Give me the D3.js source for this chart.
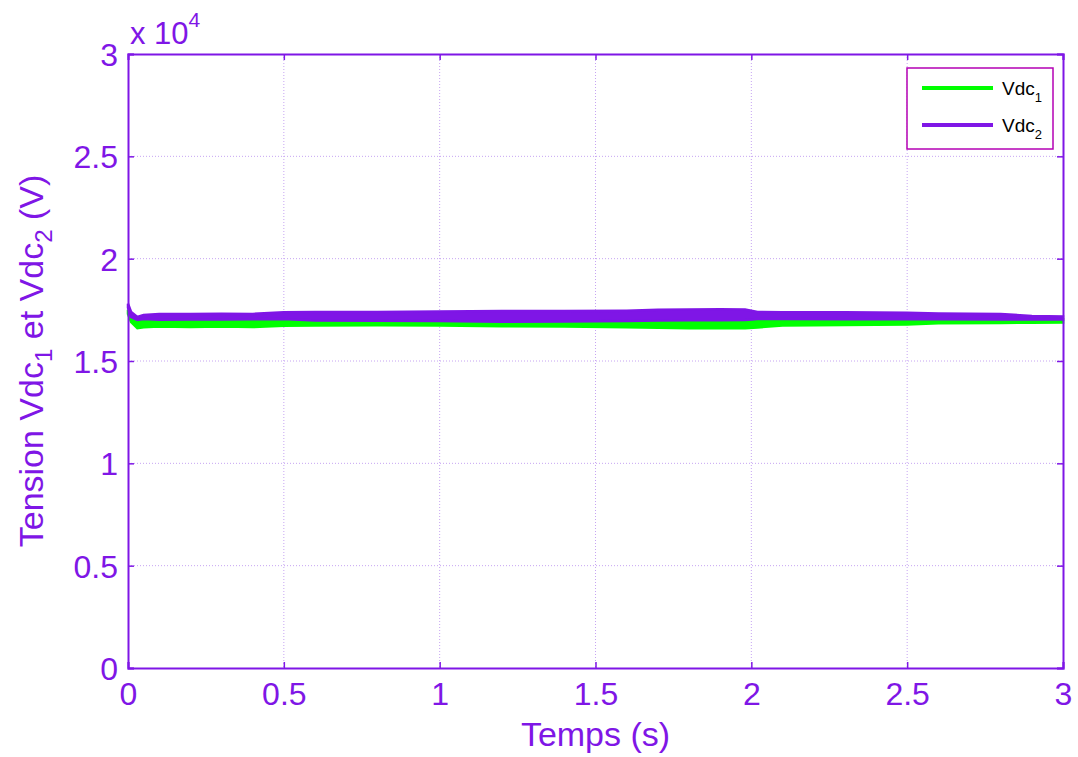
<!DOCTYPE html>
<html><head><meta charset="utf-8">
<script src="https://cdn.jsdelivr.net/npm/d3@7"></script>
<style>body{margin:0;background:#fff}svg{display:block}text{font-family:"Liberation Sans",Arial,sans-serif}</style>
</head><body>
<svg id="c" width="1078" height="757"></svg>
<script>
// time samples (s) for envelope
const times = [0, 0.01, 0.03, 0.05, 0.1, 0.2, 0.3, 0.4, 0.5, 0.6, 0.8, 1.0, 1.2, 1.4, 1.6, 1.7, 1.8, 1.9, 1.98, 2.02, 2.1, 2.3, 2.5, 2.6, 2.8, 2.9, 3.0];
// Vdc1 (green) min / max envelope, V
const vdc1Max = [17500, 17200, 16950, 17020, 17030, 17040, 17040, 17050, 17030, 17000, 17000, 17000, 16980, 16990, 17000, 17000, 17000, 17000, 17000, 17020, 17030, 17030, 17040, 17040, 17040, 17040, 17040];
const vdc1Min = [17300, 16900, 16600, 16650, 16680, 16660, 16680, 16660, 16720, 16740, 16750, 16740, 16700, 16680, 16650, 16620, 16600, 16600, 16600, 16640, 16740, 16760, 16780, 16840, 16860, 16870, 16880];
// Vdc2 (purple) min / max envelope, V
const vdc2Max = [17800, 17400, 17150, 17250, 17300, 17300, 17310, 17300, 17380, 17390, 17400, 17420, 17440, 17440, 17460, 17500, 17520, 17530, 17520, 17400, 17380, 17380, 17360, 17320, 17300, 17200, 17180];
const vdc2Min = [17600, 17150, 17000, 17050, 17020, 17030, 17030, 17040, 17050, 16980, 16970, 16950, 16920, 16930, 16950, 16980, 16990, 16990, 17000, 17050, 17050, 17040, 17040, 17040, 17030, 17030, 17030];

const xTicks = [0, 0.5, 1, 1.5, 2, 2.5, 3];
const xTickLabels = ["0", "0.5", "1", "1.5", "2", "2.5", "3"];
const yTicks = [0, 5000, 10000, 15000, 20000, 25000, 30000];
const yTickLabels = ["0", "0.5", "1", "1.5", "2", "2.5", "3"];
const seriesNames = ["Vdc", "Vdc"];
const seriesSubs = ["1", "2"];

const PURPLE = "#7f16e6", GREEN = "#00ff00", GRID = "#c6a4f2", LEG = "#b400b4";
const svg = d3.select("#c");
const L = 128, T = 54, R = 1063, B = 668;
const x = d3.scaleLinear().domain([0, 3]).range([L, R]);
const y = d3.scaleLinear().domain([0, 30000]).range([B, T]);

// grid
const g = svg.append("g");
xTicks.slice(1, -1).forEach(t => g.append("line").attr("x1", x(t)).attr("x2", x(t)).attr("y1", T).attr("y2", B)
  .attr("stroke", GRID).attr("stroke-width", 1).attr("stroke-dasharray", "1,2"));
yTicks.slice(1, -1).forEach(t => g.append("line").attr("x1", L).attr("x2", R).attr("y1", y(t)).attr("y2", y(t))
  .attr("stroke", GRID).attr("stroke-width", 1).attr("stroke-dasharray", "1,2"));

// data envelopes
const d1 = times.map((t, i) => ({t, lo: vdc1Min[i], hi: vdc1Max[i]}));
const d2 = times.map((t, i) => ({t, lo: vdc2Min[i], hi: vdc2Max[i]}));
const area = d3.area().x(d => x(d.t)).y0(d => y(d.lo)).y1(d => y(d.hi)).curve(d3.curveLinear);
svg.append("path").datum(d1).attr("d", area).attr("fill", GREEN).attr("stroke", GREEN).attr("stroke-width", 2.5);
svg.append("path").datum(d2).attr("d", area).attr("fill", PURPLE).attr("stroke", PURPLE).attr("stroke-width", 2.5);

// axes
const ax = svg.append("g").attr("transform", `translate(0,${B})`).call(d3.axisBottom(x).tickValues(xTicks).tickFormat((d, i) => xTickLabels[i]).tickSize(-6).tickPadding(14));
const ay = svg.append("g").attr("transform", `translate(${L},0)`).call(d3.axisLeft(y).tickValues(yTicks).tickFormat((d, i) => yTickLabels[i]).tickSize(-6).tickPadding(10));
const axT = svg.append("g").attr("transform", `translate(0,${T})`).call(d3.axisTop(x).tickValues(xTicks).tickFormat("").tickSize(-6));
const ayR = svg.append("g").attr("transform", `translate(${R},0)`).call(d3.axisRight(y).tickValues(yTicks).tickFormat("").tickSize(-6));
[ax, ay, axT, ayR].forEach(a => {
  a.select(".domain").attr("stroke", PURPLE).attr("stroke-width", 2);
  a.selectAll(".tick line").attr("stroke", PURPLE).attr("stroke-width", 1.5);
  a.selectAll("text").attr("fill", PURPLE).style("font-size", "32px").style("font-family", "'Liberation Sans',Arial,sans-serif");
});
ax.selectAll(".tick text").attr("dy", "0.71em");
ay.selectAll(".tick text").attr("dy", "0.36em");

// exponent
const ex = svg.append("text").attr("x", 130).attr("y", 44).attr("fill", PURPLE).style("font-size", "31px");
ex.append("tspan").text("x 10");
ex.append("tspan").attr("dy", -17).style("font-size", "21px").text("4");

// axis labels
svg.append("text").attr("x", (L + R) / 2).attr("y", 746).attr("text-anchor", "middle").attr("fill", PURPLE).style("font-size", "34px").text("Temps (s)");
const yl = svg.append("text").attr("transform", `translate(43,${(T + B) / 2}) rotate(-90)`).attr("text-anchor", "middle").attr("fill", PURPLE).style("font-size", "34px");
yl.append("tspan").text("Tension Vdc");
yl.append("tspan").attr("dy", 9).style("font-size", "24px").text("1");
yl.append("tspan").attr("dy", -9).text(" et Vdc");
yl.append("tspan").attr("dy", 9).style("font-size", "24px").text("2");
yl.append("tspan").attr("dy", -9).text(" (V)");

// legend
const lg = svg.append("g");
lg.append("rect").attr("x", 907).attr("y", 68).attr("width", 146).attr("height", 81).attr("fill", "#fff").attr("stroke", LEG).attr("stroke-width", 1.5);
[GREEN, PURPLE].forEach((c, i) => {
  const yy = 88 + i * 37;
  lg.append("line").attr("x1", 922).attr("x2", 993).attr("y1", yy).attr("y2", yy).attr("stroke", c).attr("stroke-width", 4);
  const tx = lg.append("text").attr("x", 1002).attr("y", yy + 7).attr("fill", "#000").style("font-size", "19px");
  tx.append("tspan").text(seriesNames[i]);
  tx.append("tspan").attr("dy", 7).style("font-size", "13px").text(seriesSubs[i]);
});
</script>
</body></html>
